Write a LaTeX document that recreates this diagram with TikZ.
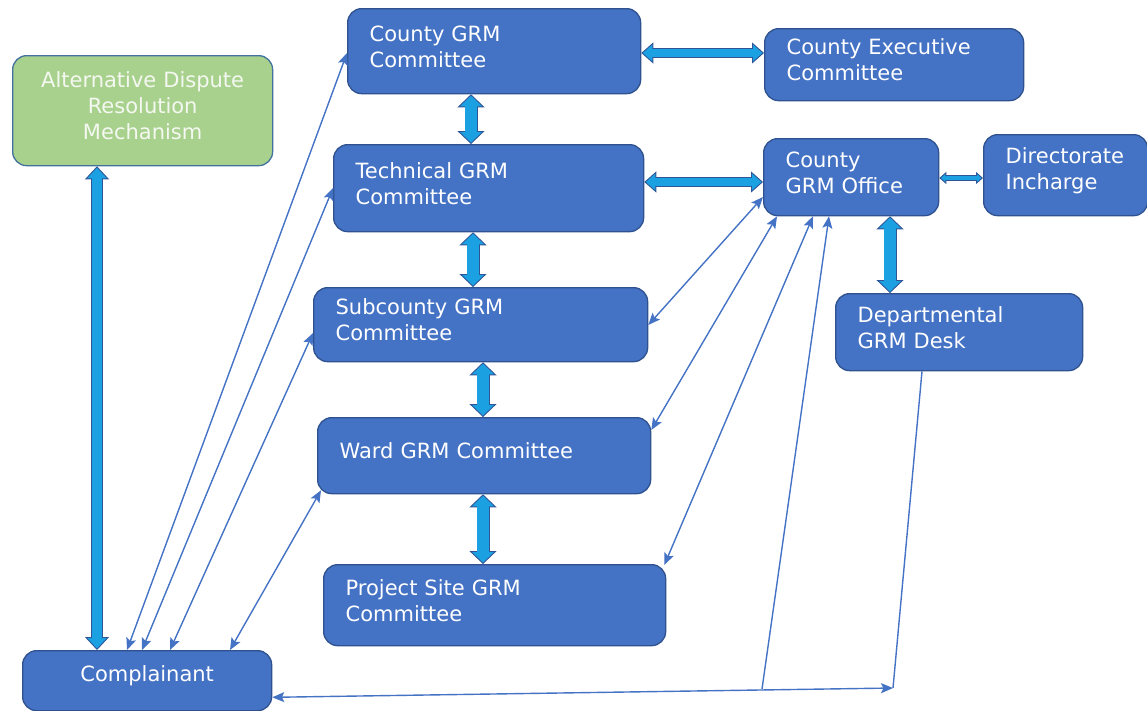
\documentclass[tikz,border=0pt]{standalone}
\usepackage{fontspec}
\setmainfont{DejaVu Sans}
\usetikzlibrary{arrows.meta}

\definecolor{boxblue}{HTML}{4472C4}
\definecolor{boxedge}{HTML}{2F528F}
\definecolor{boxgreen}{HTML}{A9D18E}
\definecolor{greenedge}{HTML}{41719C}
\definecolor{greentext}{HTML}{F4F8F0}
\definecolor{fatfill}{HTML}{1BA1E2}
\definecolor{fatedge}{HTML}{2F5597}
\definecolor{linkblue}{HTML}{4472C4}

% Block double arrow: #1,#2 ends; #3 shaft width; #4 head width; #5 head length
\newcommand{\fatlink}[5]{%
  \draw[draw=fatedge, line width=#3, shorten <=#5-1pt, shorten >=#5-1pt] #1 -- #2;
  \draw[draw=fatfill, line width=0.9pt,
    {Triangle[width=#4,length=#5,color=fatedge,fill=fatfill]}-{Triangle[width=#4,length=#5,color=fatedge,fill=fatfill]}] #1 -- #2;
  \draw[draw=fatfill, line width=#3-1.8pt, shorten <=#5-2pt, shorten >=#5-2pt] #1 -- #2;
}
% extra space below each box text, lifting it slightly above the centre
\newcommand{\boxtail}{\par\vspace*{9pt}}

\begin{document}
\begin{tikzpicture}[x=1pt,y=-1pt,
  box/.style={draw=boxedge, line width=1.3pt, fill=boxblue, rounded corners=14pt,
    text=white, font=\fontsize{21}{26}\selectfont, anchor=north west,
    inner xsep=22pt, inner ysep=0pt, align=left,
    execute at end node=\boxtail},
  greenbox/.style={box, draw=greenedge, fill=boxgreen, text=greentext, align=center},
  link/.style={draw=linkblue, line width=1.4pt},
  >={Stealth[length=12pt,width=10pt,inset=2.5pt]},
]
\useasboundingbox (0,0) rectangle (1147,710);

% boxes
\node[greenbox, minimum width=260pt, minimum height=110pt, text width=216pt] (adr) at (12,55)
  {Alternative Dispute\\Resolution\\Mechanism};
\node[box, minimum width=293pt, minimum height=85pt, text width=249pt] (ctc) at (347,8)
  {County GRM\\Committee};
\node[box, minimum width=259pt, minimum height=72pt, text width=215pt] (exec) at (764,28)
  {County Executive\\Committee};
\node[box, minimum width=310pt, minimum height=87pt, text width=266pt] (tech) at (333,144)
  {Technical GRM\\Committee};
\node[box, minimum width=175pt, minimum height=77pt, text width=131pt] (off) at (763,138)
  {County\\GRM Office};
\node[box, minimum width=164pt, minimum height=81pt, text width=120pt] (dir) at (983,134)
  {Directorate\\Incharge};
\node[box, minimum width=334pt, minimum height=74pt, text width=290pt] (sub) at (313,287)
  {Subcounty GRM\\Committee};
\node[box, minimum width=247pt, minimum height=77pt, text width=203pt] (dept) at (835,293)
  {Departmental\\GRM Desk};
\node[box, minimum width=333pt, minimum height=76pt, text width=289pt] (ward) at (317,417)
  {Ward GRM Committee};
\node[box, minimum width=342pt, minimum height=81pt, text width=298pt] (proj) at (323,564)
  {Project Site GRM\\Committee};
\node[box, align=center, minimum width=249pt, minimum height=60pt, text width=205pt] (cmp) at (22,650)
  {Complainant};

% points on the return line along the bottom
\coordinate (j) at (893,688);
\coordinate (k) at (762,689);

% block arrows
\fatlink{([xshift=85pt]adr.south west)}{([xshift=75pt]cmp.north west)}{12pt}{24pt}{13pt}
\fatlink{([xshift=124pt]ctc.south west)}{([xshift=138pt]tech.north west)}{13pt}{27pt}{13pt}
\fatlink{([xshift=140pt]tech.south west)}{([xshift=160pt]sub.north west)}{13pt}{27pt}{13pt}
\fatlink{([xshift=170pt]sub.south west)}{([xshift=166pt]ward.north west)}{13pt}{27pt}{13pt}
\fatlink{([xshift=166pt]ward.south west)}{([xshift=160pt]proj.north west)}{13pt}{27pt}{13pt}
\fatlink{([yshift=-45pt]ctc.north east)}{([yshift=-25pt]exec.north west)}{10pt}{21pt}{12pt}
\fatlink{([yshift=-38pt]tech.north east)}{([yshift=-44pt]off.north west)}{10pt}{21pt}{12pt}
\fatlink{([yshift=-40pt]off.north east)}{([yshift=-44pt]dir.north west)}{6pt}{12pt}{7pt}
\fatlink{([xshift=127pt]off.south west)}{([xshift=55pt]dept.north west)}{13pt}{27pt}{13pt}

% thin connectors
\draw[link,<->] ([xshift=105pt]cmp.north west) -- ([yshift=-45pt]ctc.north west);
\draw[link,<->] ([xshift=120pt]cmp.north west) -- (tech.west);
\draw[link,<->] ([xshift=148pt]cmp.north west) -- ([yshift=-46pt]sub.north west);
\draw[link,<->] ([xshift=208pt]cmp.north west) -- ([xshift=4pt,yshift=4pt]ward.south west);
\draw[link,<->] ([yshift=-59pt]off.north west) -- ([yshift=-38pt]sub.north east);
\draw[link,<->] ([xshift=14pt]off.south west) -- ([yshift=-13pt]ward.north east);
\draw[link,<->] ([xshift=50pt]off.south west) -- ([xshift=-2pt,yshift=-1pt]proj.north east);
\draw[link,->] (k) -- ([xshift=66pt]off.south west);
\draw[link] ([xshift=87pt]dept.south west) -- (j);
\draw[link,<->] ([yshift=14pt]cmp.south east) -- (j);
\end{tikzpicture}
\end{document}
